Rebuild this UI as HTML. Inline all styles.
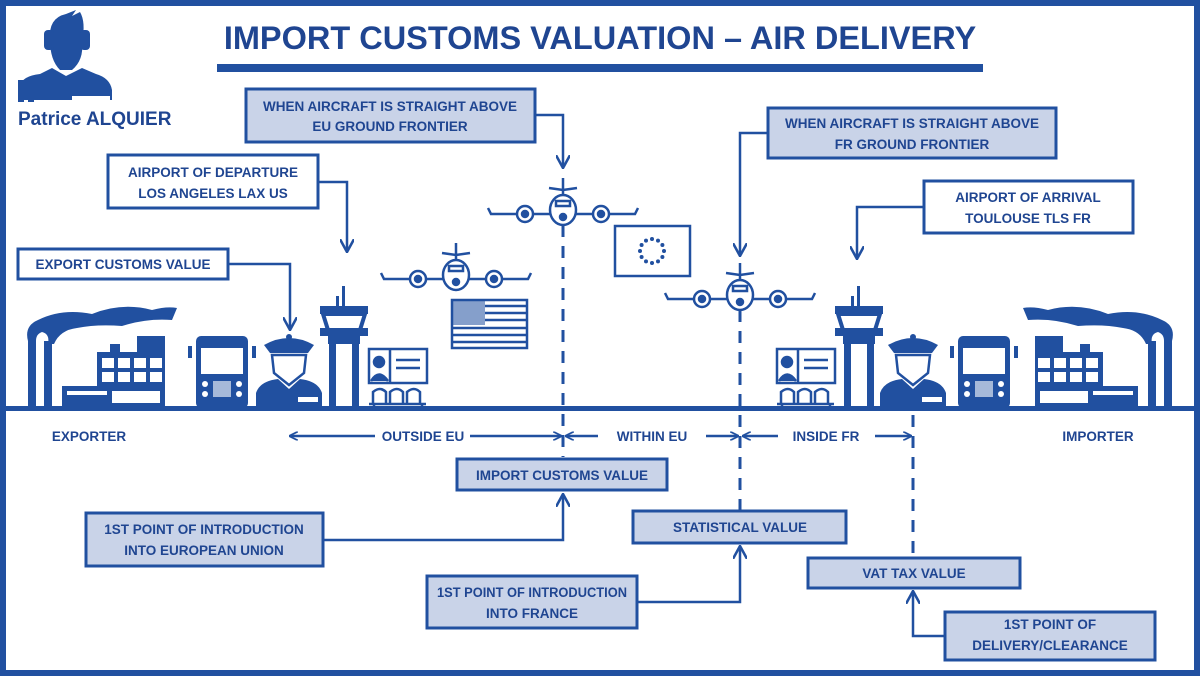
<!DOCTYPE html>
<html><head><meta charset="utf-8"><style>
html,body{margin:0;padding:0;background:#fff}
svg{display:block}
text{font-family:"Liberation Sans",sans-serif;font-weight:bold;fill:#1f4591}
</style></head><body>
<svg width="1200" height="676" viewBox="0 0 1200 676" xmlns="http://www.w3.org/2000/svg">
<defs>
<marker id="ah" viewBox="0 0 10 10" refX="9" refY="5" markerWidth="9" markerHeight="9" markerUnits="userSpaceOnUse" orient="auto">
<path d="M0,0 L10,5 L0,10" fill="none" stroke="#2150a0" stroke-width="2"/></marker>
<marker id="ah2" viewBox="0 0 12 12" refX="11" refY="6" markerWidth="14" markerHeight="14" markerUnits="userSpaceOnUse" orient="auto">
<path d="M0,0 L11,6 L0,12" fill="none" stroke="#2150a0" stroke-width="2.2"/></marker>
<g id="plane" fill="none" stroke="#2150a0" stroke-width="2.5">
<path d="M-75,8 L-72,14 L-10,14 M10,14 L72,14 L75,8"/>
<circle cx="-38" cy="14" r="8" fill="#fff"/><circle cx="-38" cy="14" r="3" fill="#2150a0"/>
<circle cx="38" cy="14" r="8" fill="#fff"/><circle cx="38" cy="14" r="3" fill="#2150a0"/>
<ellipse cx="0" cy="10" rx="13" ry="15" fill="#fff"/>
<rect x="-7" y="1" width="14" height="5" />
<circle cx="0" cy="17" r="3" fill="#2150a0"/>
<path d="M0,-5 L0,-22 M-14,-12 L0,-10 L14,-12"/>
</g>
<g id="tower" fill="#2150a0">
<rect x="22" y="0" width="3" height="20"/>
<rect x="16" y="10" width="3" height="12"/>
<rect x="0" y="20" width="48" height="8"/>
<path d="M3,28 L45,28 L40,44 L8,44Z" fill="none" stroke="#2150a0" stroke-width="4"/>
<rect x="0" y="42" width="48" height="8"/>
<rect x="8" y="50" width="32" height="8"/>
<rect x="9" y="58" width="7" height="65"/><rect x="32" y="58" width="7" height="65"/>
</g>
<g id="officer" fill="#2150a0">
<path d="M8,12 Q33,-2 58,12 L52,20 L14,20Z"/>
<circle cx="33" cy="4" r="3"/>
<path d="M16,22 L50,22 L48,40 L33,52 L18,40Z" fill="#fff" stroke="#2150a0" stroke-width="2.5"/>
<path d="M0,75 L0,60 Q4,48 22,46 L33,56 L44,46 Q62,48 66,60 L66,75Z"/>
<rect x="42" y="64" width="20" height="5" fill="#fff"/>
</g>
<g id="bus" fill="#2150a0">
<rect x="8" y="0" width="52" height="72" rx="5"/>
<rect x="13" y="12" width="42" height="26" fill="#fff"/>
<rect x="0" y="10" width="4" height="12"/><rect x="64" y="10" width="4" height="12"/>
<circle cx="17" cy="48" r="3" fill="#fff"/><circle cx="51" cy="48" r="3" fill="#fff"/>
<circle cx="17" cy="58" r="3" fill="#fff"/><circle cx="51" cy="58" r="3" fill="#fff"/>
<rect x="25" y="45" width="18" height="16" fill="#fff" opacity=".6"/>
</g>
<g id="factory" fill="#2150a0">
<path d="M6,45 Q2,30 16,24 Q40,12 70,18 Q100,6 130,14 Q145,10 155,12 L150,24 Q125,22 100,30 Q75,28 55,32 Q38,34 32,48 L26,48 Q28,38 20,36 Q14,38 14,45Z"/>
<rect x="6" y="45" width="8" height="67"/><rect x="22" y="45" width="8" height="67"/>
<rect x="40" y="90" width="50" height="22"/>
<rect x="88" y="48" width="10" height="8"/><rect x="115" y="40" width="28" height="16"/>
<rect x="75" y="56" width="68" height="56"/>
<g fill="#fff"><rect x="80" y="62" width="12" height="10"/><rect x="96" y="62" width="12" height="10"/><rect x="112" y="62" width="12" height="10"/><rect x="128" y="62" width="12" height="10"/>
<rect x="80" y="76" width="12" height="10"/><rect x="96" y="76" width="12" height="10"/><rect x="112" y="76" width="12" height="10"/><rect x="128" y="76" width="12" height="10"/>
<rect x="45" y="95" width="40" height="4"/><rect x="90" y="95" width="48" height="12"/></g>
</g>
<g id="wait" fill="none" stroke="#2150a0" stroke-width="2.5">
<rect x="1" y="1" width="58" height="34"/><line x1="22" y1="1" x2="22" y2="35"/>
<circle cx="11" cy="14" r="5" fill="#2150a0"/><path d="M3,33 Q11,20 20,33" fill="#2150a0"/>
<line x1="28" y1="12" x2="52" y2="12"/><line x1="28" y1="20" x2="52" y2="20"/>
<path d="M5,56 L5,44 Q12,38 18,44 L18,56 M22,56 L22,44 Q29,38 35,44 L35,56 M39,56 L39,44 Q46,38 52,44 L52,56 M1,56 L58,56 M6,56 L6,62 M54,56 L54,62"/>
</g>
</defs>

<rect x="3" y="3" width="1194" height="670" fill="none" stroke="#2150a0" stroke-width="6"/>

<!-- logo -->
<g fill="#2150a0">
<path d="M50,40 Q48,18 66,14 L76,10 L72,16 L80,12 Q86,22 82,42 Q84,60 72,70 L60,70 Q50,60 50,40Z"/>
<rect x="44" y="30" width="10" height="20" rx="4"/><rect x="80" y="30" width="10" height="20" rx="4"/>
<path d="M20,100 L20,86 Q22,76 40,74 L52,68 L66,76 L82,68 L96,74 Q110,78 112,90 L112,100Z"/>
<rect x="18" y="80" width="6" height="22"/><rect x="28" y="80" width="6" height="22"/>
</g>
<rect x="72" y="96" width="38" height="5" fill="#fff"/>
<text x="18" y="125" font-size="19">Patrice ALQUIER</text>

<text x="600" y="49" font-size="32.5" text-anchor="middle">IMPORT CUSTOMS VALUATION – AIR DELIVERY</text>
<rect x="217" y="64" width="766" height="8" fill="#2150a0"/>

<rect x="6" y="406" width="1188" height="5" fill="#2150a0"/>

<use href="#factory" x="22" y="296"/>
<use href="#bus" x="188" y="336"/>
<use href="#officer" x="256" y="333"/>
<use href="#tower" x="320" y="286"/>
<use href="#wait" x="368" y="348"/>
<g transform="translate(1178,296) scale(-1,1)"><use href="#factory"/></g>
<use href="#bus" x="950" y="336"/>
<use href="#officer" x="880" y="333"/>
<use href="#tower" x="835" y="286"/>
<use href="#wait" x="776" y="348"/>

<use href="#plane" x="563" y="200"/>
<use href="#plane" x="456" y="265"/>
<use href="#plane" x="740" y="285"/>

<rect x="615" y="226" width="75" height="50" fill="#fff" stroke="#2150a0" stroke-width="2.5"/>
<g fill="#2150a0">
<circle cx="652" cy="239" r="2"/><circle cx="658" cy="240.6" r="2"/><circle cx="662.4" cy="245" r="2"/><circle cx="664" cy="251" r="2"/><circle cx="662.4" cy="257" r="2"/><circle cx="658" cy="261.4" r="2"/><circle cx="652" cy="263" r="2"/><circle cx="646" cy="261.4" r="2"/><circle cx="641.6" cy="257" r="2"/><circle cx="640" cy="251" r="2"/><circle cx="641.6" cy="245" r="2"/><circle cx="646" cy="240.6" r="2"/>
</g>
<rect x="452" y="300" width="75" height="48" fill="#fff" stroke="#2150a0" stroke-width="2.5"/>
<rect x="452" y="300" width="33" height="25" fill="#2150a0" opacity=".55"/>
<g stroke="#2150a0" stroke-width="2.5"><line x1="485" y1="306" x2="527" y2="306"/><line x1="485" y1="313" x2="527" y2="313"/><line x1="485" y1="320" x2="527" y2="320"/><line x1="452" y1="328" x2="527" y2="328"/><line x1="452" y1="335" x2="527" y2="335"/><line x1="452" y1="342" x2="527" y2="342"/></g>

<g stroke="#2150a0" stroke-width="3" stroke-dasharray="12 9" fill="none">
<line x1="563" y1="225" x2="563" y2="457"/>
<line x1="740" y1="310" x2="740" y2="510"/>
<line x1="913" y1="415" x2="913" y2="557"/>
</g>

<g stroke="#2150a0" stroke-width="3">
<rect x="246" y="89" width="289" height="53" fill="#c9d3e8"/>
<rect x="768" y="108" width="288" height="50" fill="#c9d3e8"/>
<rect x="108" y="155" width="210" height="53" fill="#fff"/>
<rect x="924" y="181" width="209" height="52" fill="#fff"/>
<rect x="18" y="249" width="210" height="30" fill="#fff"/>
</g>
<g font-size="13.5" text-anchor="middle">
<text x="390" y="111">WHEN AIRCRAFT IS STRAIGHT ABOVE</text><text x="390" y="131">EU GROUND FRONTIER</text>
<text x="912" y="128">WHEN AIRCRAFT IS STRAIGHT ABOVE</text><text x="912" y="149">FR GROUND FRONTIER</text>
<text x="213" y="177">AIRPORT OF DEPARTURE</text><text x="213" y="198">LOS ANGELES LAX US</text>
<text x="1028" y="202">AIRPORT OF ARRIVAL</text><text x="1028" y="223">TOULOUSE TLS FR</text>
<text x="123" y="269">EXPORT CUSTOMS VALUE</text>
</g>
<g stroke="#2150a0" stroke-width="2.5" fill="none">
<path d="M535,115 L563,115 L563,168" marker-end="url(#ah2)"/>
<path d="M768,133 L740,133 L740,256" marker-end="url(#ah2)"/>
<path d="M318,182 L347,182 L347,252" marker-end="url(#ah2)"/>
<path d="M924,207 L857,207 L857,259" marker-end="url(#ah2)"/>
<path d="M228,264 L290,264 L290,330" marker-end="url(#ah2)"/>
</g>

<g font-size="13.5" text-anchor="middle">
<text x="89" y="441">EXPORTER</text>
<text x="423" y="441">OUTSIDE EU</text>
<text x="652" y="441">WITHIN EU</text>
<text x="826" y="441">INSIDE FR</text>
<text x="1098" y="441">IMPORTER</text>
</g>
<g stroke="#2150a0" stroke-width="2.5" fill="none">
<line x1="375" y1="436" x2="290" y2="436" marker-end="url(#ah)"/>
<line x1="470" y1="436" x2="561" y2="436" marker-end="url(#ah)"/>
<line x1="598" y1="436" x2="566" y2="436" marker-end="url(#ah)"/>
<line x1="706" y1="436" x2="738" y2="436" marker-end="url(#ah)"/>
<line x1="778" y1="436" x2="743" y2="436" marker-end="url(#ah)"/>
<line x1="875" y1="436" x2="911" y2="436" marker-end="url(#ah)"/>
</g>

<g stroke="#2150a0" stroke-width="3" fill="#c9d3e8">
<rect x="457" y="459" width="210" height="31"/>
<rect x="86" y="513" width="237" height="53"/>
<rect x="633" y="511" width="213" height="32"/>
<rect x="427" y="576" width="210" height="52"/>
<rect x="808" y="558" width="212" height="30"/>
<rect x="945" y="612" width="210" height="48"/>
</g>
<g font-size="13.5" text-anchor="middle">
<text x="562" y="480">IMPORT CUSTOMS VALUE</text>
<text x="204" y="534">1ST POINT OF INTRODUCTION</text><text x="204" y="555">INTO EUROPEAN UNION</text>
<text x="740" y="532">STATISTICAL VALUE</text>
<text x="532" y="597" textLength="190" lengthAdjust="spacingAndGlyphs">1ST POINT OF INTRODUCTION</text><text x="532" y="618">INTO FRANCE</text>
<text x="914" y="578">VAT TAX VALUE</text>
<text x="1050" y="629">1ST POINT OF</text><text x="1050" y="650">DELIVERY/CLEARANCE</text>
</g>
<g stroke="#2150a0" stroke-width="2.5" fill="none">
<path d="M323,540 L563,540 L563,494" marker-end="url(#ah2)"/>
<path d="M637,602 L740,602 L740,546" marker-end="url(#ah2)"/>
<path d="M945,636 L913,636 L913,591" marker-end="url(#ah2)"/>
</g>
</svg>
</body></html>
